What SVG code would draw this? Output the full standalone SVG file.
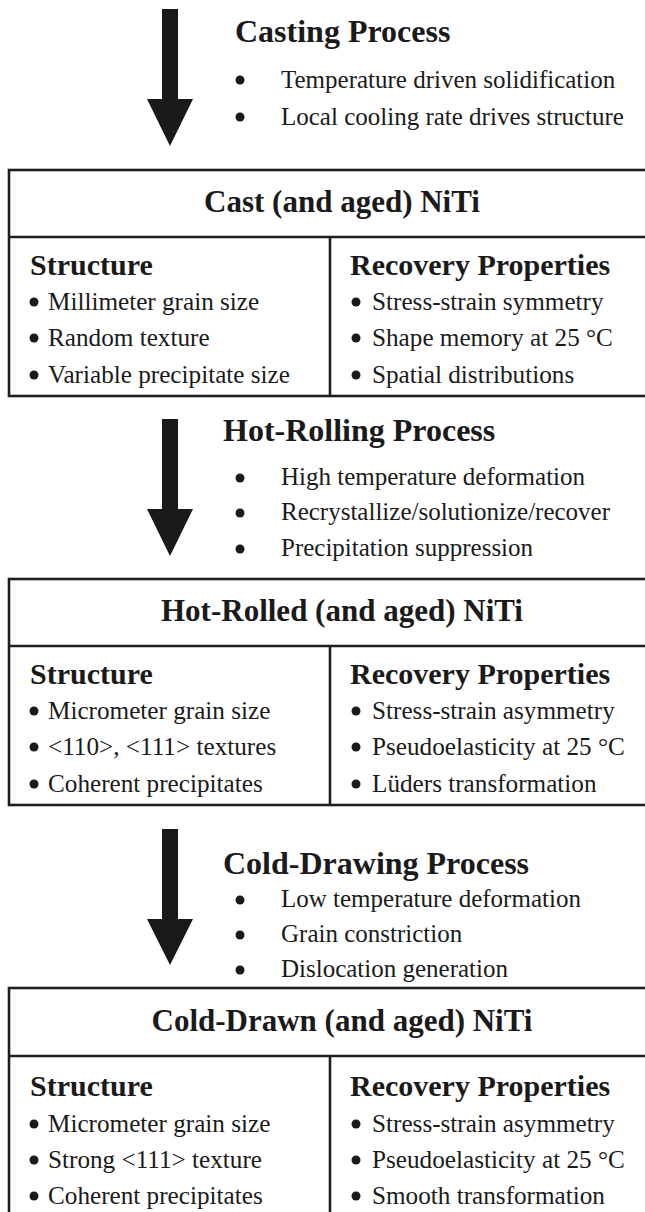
<svg xmlns="http://www.w3.org/2000/svg" width="645" height="1212" viewBox="0 0 645 1212">
<style>
  .bg{fill:#ffffff}
  .box{fill:none;stroke:#1e1e1e;stroke-width:2.6}
  .ln{stroke:#1e1e1e;stroke-width:2.6}
  .arrow{fill:#1a1a1a}
  text{font-family:"Liberation Serif","Times New Roman",serif;fill:#1a1a1a}
  .ph{font-size:32px;font-weight:bold}
  .pt{font-size:25px}
  .title{font-size:31px;font-weight:bold;text-anchor:middle}
  .sub{font-size:30px;font-weight:bold}
  .it{font-size:25.2px}
  .dot{fill:#1a1a1a}
</style>
<rect class="bg" x="0" y="0" width="645" height="1212"/>

<g id="connectors">
  <path class="arrow" d="M162,9 H178 V99 H193 L170,146 L147,99 H162 Z"/>
  <path class="arrow" d="M162,419 H178 V509 H193 L170,556 L147,509 H162 Z"/>
  <path class="arrow" d="M162,829 H178 V919 H193 L170,965 L147,919 H162 Z"/>
</g>

<g id="process-casting">
  <text class="ph" x="235" y="42">Casting Process</text>
  <circle class="dot" cx="240" cy="80" r="4.5"/>
  <text class="pt" x="281" y="88">Temperature driven solidification</text>
  <circle class="dot" cx="240" cy="117" r="4.5"/>
  <text class="pt" x="281" y="125">Local cooling rate drives structure</text>
</g>

<g id="box-cast">
  <rect class="box" x="9" y="170" width="700" height="226"/>
  <line class="ln" x1="9" y1="237" x2="645" y2="237"/>
  <line class="ln" x1="330" y1="237" x2="330" y2="396"/>
  <text class="title" x="342" y="212">Cast (and aged) NiTi</text>
  <text class="sub" x="30" y="275">Structure</text>
  <text class="sub" x="350" y="275">Recovery Properties</text>
  <circle class="dot" cx="34" cy="302" r="4.5"/>
  <text class="it" x="48" y="310">Millimeter grain size</text>
  <circle class="dot" cx="34" cy="338" r="4.5"/>
  <text class="it" x="48" y="346">Random texture</text>
  <circle class="dot" cx="34" cy="375" r="4.5"/>
  <text class="it" x="48" y="383">Variable precipitate size</text>
  <circle class="dot" cx="356" cy="302" r="4.5"/>
  <text class="it" x="372" y="310">Stress-strain symmetry</text>
  <circle class="dot" cx="356" cy="338" r="4.5"/>
  <text class="it" x="372" y="346">Shape memory at 25 °C</text>
  <circle class="dot" cx="356" cy="375" r="4.5"/>
  <text class="it" x="372" y="383">Spatial distributions</text>
</g>

<g id="process-hot-rolling">
  <text class="ph" x="223" y="441">Hot-Rolling Process</text>
  <circle class="dot" cx="240" cy="478" r="4.5"/>
  <text class="pt" x="281" y="485">High temperature deformation</text>
  <circle class="dot" cx="240" cy="513" r="4.5"/>
  <text class="pt" x="281" y="520">Recrystallize/solutionize/recover</text>
  <circle class="dot" cx="240" cy="549" r="4.5"/>
  <text class="pt" x="281" y="556">Precipitation suppression</text>
</g>

<g id="box-hot-rolled">
  <rect class="box" x="9" y="579" width="700" height="226"/>
  <line class="ln" x1="9" y1="646" x2="645" y2="646"/>
  <line class="ln" x1="330" y1="646" x2="330" y2="805"/>
  <text class="title" x="342" y="621">Hot-Rolled (and aged) NiTi</text>
  <text class="sub" x="30" y="684">Structure</text>
  <text class="sub" x="350" y="684">Recovery Properties</text>
  <circle class="dot" cx="34" cy="711" r="4.5"/>
  <text class="it" x="48" y="719">Micrometer grain size</text>
  <circle class="dot" cx="34" cy="747" r="4.5"/>
  <text class="it" x="48" y="755">&lt;110&gt;, &lt;111&gt; textures</text>
  <circle class="dot" cx="34" cy="784" r="4.5"/>
  <text class="it" x="48" y="792">Coherent precipitates</text>
  <circle class="dot" cx="356" cy="711" r="4.5"/>
  <text class="it" x="372" y="719">Stress-strain asymmetry</text>
  <circle class="dot" cx="356" cy="747" r="4.5"/>
  <text class="it" x="372" y="755">Pseudoelasticity at 25 °C</text>
  <circle class="dot" cx="356" cy="784" r="4.5"/>
  <text class="it" x="372" y="792">Lüders transformation</text>
</g>

<g id="process-cold-drawing">
  <text class="ph" x="223" y="874">Cold-Drawing Process</text>
  <circle class="dot" cx="240" cy="900" r="4.5"/>
  <text class="pt" x="281" y="907">Low temperature deformation</text>
  <circle class="dot" cx="240" cy="935" r="4.5"/>
  <text class="pt" x="281" y="942">Grain constriction</text>
  <circle class="dot" cx="240" cy="970" r="4.5"/>
  <text class="pt" x="281" y="977">Dislocation generation</text>
</g>

<g id="box-cold-drawn">
  <rect class="box" x="9" y="988" width="700" height="260"/>
  <line class="ln" x1="9" y1="1056" x2="645" y2="1056"/>
  <line class="ln" x1="330" y1="1056" x2="330" y2="1240"/>
  <text class="title" x="342" y="1031">Cold-Drawn (and aged) NiTi</text>
  <text class="sub" x="30" y="1096">Structure</text>
  <text class="sub" x="350" y="1096">Recovery Properties</text>
  <circle class="dot" cx="34" cy="1124" r="4.5"/>
  <text class="it" x="48" y="1132">Micrometer grain size</text>
  <circle class="dot" cx="34" cy="1160" r="4.5"/>
  <text class="it" x="48" y="1168">Strong &lt;111&gt; texture</text>
  <circle class="dot" cx="34" cy="1196" r="4.5"/>
  <text class="it" x="48" y="1204">Coherent precipitates</text>
  <circle class="dot" cx="356" cy="1124" r="4.5"/>
  <text class="it" x="372" y="1132">Stress-strain asymmetry</text>
  <circle class="dot" cx="356" cy="1160" r="4.5"/>
  <text class="it" x="372" y="1168">Pseudoelasticity at 25 °C</text>
  <circle class="dot" cx="356" cy="1196" r="4.5"/>
  <text class="it" x="372" y="1204">Smooth transformation</text>
</g>
</svg>
